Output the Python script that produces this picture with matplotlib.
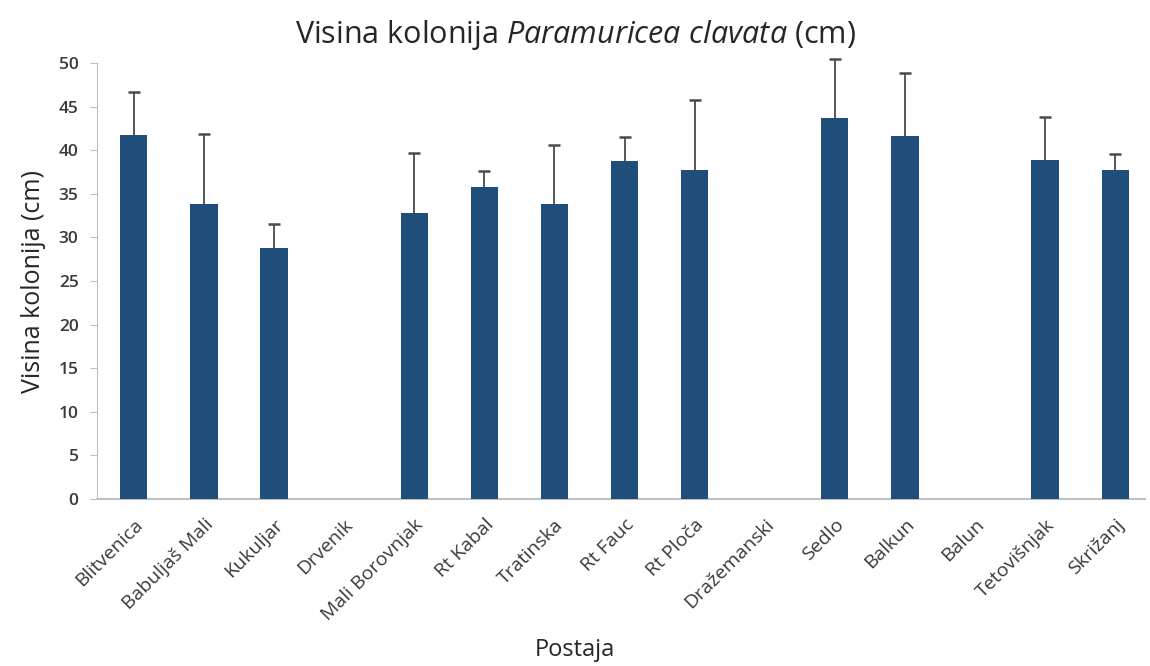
import numpy as np
import matplotlib
matplotlib.use('Agg')
import matplotlib.pyplot as plt

plt.rcParams['font.family'] = ['Open Sans', 'DejaVu Sans']
plt.rcParams['mathtext.fontset'] = 'custom'
plt.rcParams['mathtext.rm'] = 'Open Sans'
plt.rcParams['mathtext.it'] = 'Open Sans:italic'

stations = ['Blitvenica', 'Babuljaš Mali', 'Kukuljar', 'Drvenik', 'Mali Borovnjak',
            'Rt Kabal', 'Tratinska', 'Rt Fauc', 'Rt Ploča', 'Dražemanski',
            'Sedlo', 'Balkun', 'Balun', 'Tetovišnjak', 'Skrižanj']
heights = [41.8, 33.8, 28.8, np.nan, 32.8, 35.8, 33.8, 38.8, 37.8, np.nan,
           43.7, 41.7, np.nan, 38.9, 37.8]
errors = [4.9, 8.1, 2.7, np.nan, 6.9, 1.8, 6.8, 2.7, 8.0, np.nan,
          6.8, 7.2, np.nan, 4.9, 1.8]

fig = plt.figure(figsize=(11.5, 6.66), dpi=100)
ax = fig.add_axes([0.084, 0.251, 0.912, 0.654])

x = np.arange(len(stations))
h = np.array(heights)
e = np.array(errors)
ax.bar(x, np.nan_to_num(h), width=0.39, color='#1f4e7a', zorder=3)
# symmetric bars drawn behind the columns, so only the upper half shows
ax.errorbar(x, h, yerr=e, fmt='none', ecolor='#4a4a4a',
            elinewidth=1.3, capsize=4, capthick=1.8, zorder=2, clip_on=False)

ax.set_xlim(-0.53, len(stations) - 0.57)
ax.set_ylim(0, 50)
ax.set_yticks(range(0, 51, 5))
ax.set_xticks(x)
ax.set_xticklabels(stations, rotation=45, ha='right', rotation_mode='anchor',
                   fontsize=14, color='#3a3a3a')
ax.tick_params(axis='x', length=0, pad=12)
ax.tick_params(axis='y', length=5, color='#bfbfbf', labelsize=12.5, labelcolor='#3a3a3a', pad=8)
for lbl in ax.get_yticklabels():
    lbl.set_fontweight('semibold')

for s in ['top', 'right']:
    ax.spines[s].set_visible(False)
ax.spines['left'].set_color('#bfbfbf')
ax.spines['bottom'].set_color('#bfbfbf')
ax.spines['bottom'].set_linewidth(1.5)

ax.set_ylabel('Visina kolonija (cm)', fontsize=18, color='#262626', labelpad=9)
fig.text(0.5, 0.015, 'Postaja', ha='center', fontsize=17, color='#262626')
fig.text(0.5, 0.935, r'Visina kolonija $\mathit{Paramuricea\ clavata}$ (cm)',
         ha='center', fontsize=22, color='#262626')

fig.savefig('out.png', dpi=100)
